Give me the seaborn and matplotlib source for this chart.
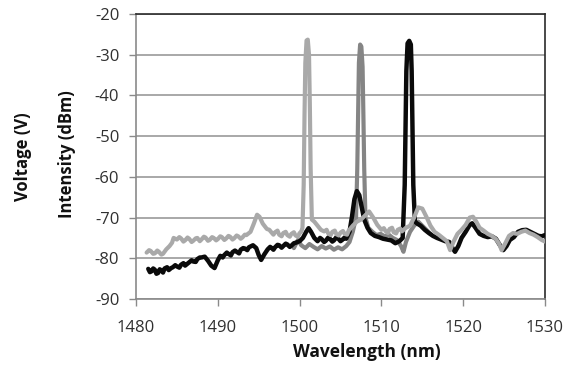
import matplotlib
matplotlib.use("Agg")
import matplotlib.pyplot as plt
import seaborn as sns
import pandas as pd

# ---- data ----
light_wl = [1481.3, 1481.6, 1481.8, 1482.1, 1482.3, 1482.6, 1482.8, 1483.1, 1483.3, 1483.7,
            1484.1, 1484.4, 1484.6, 1485.0, 1485.3, 1485.5, 1485.8, 1486.0, 1486.3, 1486.5,
            1486.8, 1487.0, 1487.3, 1487.5, 1487.8, 1488.0, 1488.3, 1488.5, 1488.8, 1489.0,
            1489.3, 1489.5, 1489.8, 1490.0, 1490.3, 1490.5, 1490.8, 1491.0, 1491.3, 1491.5,
            1491.8, 1492.0, 1492.3, 1492.5, 1492.8, 1493.0, 1493.3, 1493.5, 1494.0, 1494.4,
            1494.8, 1495.1, 1495.5, 1496.0, 1496.3, 1496.5, 1496.8, 1497.0, 1497.3, 1497.5,
            1497.8, 1498.0, 1498.3, 1498.5, 1498.8, 1499.0, 1499.3, 1499.5, 1499.8, 1500.0,
            1500.2, 1500.35, 1500.5, 1500.6, 1500.7, 1500.85, 1501.0, 1501.15, 1501.25, 1501.35,
            1501.5, 1501.8, 1502.2, 1502.6, 1503.0, 1503.3, 1503.5, 1503.8, 1504.0, 1504.3,
            1504.5, 1504.8, 1505.0, 1505.3, 1505.5, 1505.8, 1506.0, 1506.5, 1507.0, 1507.5,
            1508.0, 1508.5, 1509.0, 1509.5, 1510.0, 1510.3, 1510.5, 1510.8, 1511.0, 1511.3,
            1511.5, 1511.8, 1512.0, 1512.3, 1512.5, 1513.0, 1513.5, 1514.0, 1514.5, 1515.0,
            1515.5, 1516.0, 1516.5, 1517.0, 1517.5, 1518.0, 1518.4, 1518.8, 1519.3, 1519.8,
            1520.3, 1520.8, 1521.2, 1521.6, 1522.0, 1522.5, 1523.0, 1523.5, 1524.0, 1524.4,
            1524.7, 1525.1, 1525.6, 1526.1, 1526.6, 1527.1, 1527.6, 1528.1, 1528.6, 1529.1,
            1529.6, 1530.0]
light_db = [-78.6, -78.0, -78.2, -78.9, -78.8, -78.1, -78.4, -79.1, -78.9, -77.8,
            -77.0, -76.2, -75.0, -75.4, -74.8, -75.1, -75.9, -75.6, -74.9, -75.2,
            -76.0, -75.7, -75.1, -75.0, -75.8, -75.4, -74.7, -74.9, -75.7, -75.5,
            -74.8, -75.0, -75.6, -75.3, -74.6, -74.8, -75.5, -75.2, -74.5, -74.7,
            -75.4, -75.1, -74.4, -74.6, -75.2, -74.9, -74.2, -74.3, -73.5, -71.5,
            -69.3, -69.8, -71.5, -72.8, -73.0, -73.5, -74.2, -73.6, -73.2, -74.2,
            -74.6, -73.8, -73.5, -74.3, -74.7, -74.0, -73.6, -74.4, -74.7, -73.8,
            -73.5, -72.5, -62.0, -45.0, -32.0, -26.5, -26.3, -30.0, -42.0, -58.0,
            -70.5, -71.0, -72.0, -73.0, -73.4, -73.0, -73.9, -74.3, -73.5, -73.2,
            -74.1, -74.4, -73.7, -73.3, -74.0, -74.2, -73.2, -72.0, -71.0, -70.5,
            -69.5, -68.5, -70.0, -71.8, -73.0, -72.6, -73.3, -73.8, -72.8, -72.5,
            -73.6, -73.9, -73.0, -72.7, -73.4, -72.5, -72.0, -70.0, -67.5, -67.8,
            -69.8, -72.0, -73.5, -74.2, -75.0, -75.8, -78.0, -76.0, -74.0, -73.0,
            -71.8, -70.0, -69.8, -71.0, -72.5, -73.2, -74.0, -74.5, -75.3, -76.5,
            -78.0, -76.5, -74.5, -73.8, -74.0, -73.5, -73.2, -73.8, -74.2, -74.8,
            -75.5, -75.9]

mid_wl = [1499.3, 1499.8, 1500.2, 1500.7, 1501.2, 1501.7, 1502.2, 1502.7, 1503.2, 1503.7,
          1504.2, 1504.7, 1505.2, 1505.7, 1506.1, 1506.5, 1506.9, 1507.05, 1507.15, 1507.25,
          1507.4, 1507.55, 1507.7, 1507.8, 1507.9, 1508.05, 1508.4, 1508.9, 1509.4, 1509.9,
          1510.4, 1510.9, 1511.4, 1511.9, 1512.4, 1512.7, 1513.0, 1513.5, 1514.0, 1514.5,
          1515.0, 1515.5, 1516.0]
mid_db = [-77.5, -75.5, -76.8, -77.5, -76.5, -77.2, -77.8, -77.0, -77.6, -77.1,
          -77.9, -77.3, -77.8, -77.0, -76.0, -73.5, -70.0, -58.0, -45.0, -32.0,
          -27.5, -28.0, -33.0, -45.0, -58.0, -70.0, -72.5, -73.5, -74.3, -74.0,
          -74.6, -74.2, -75.0, -75.5, -77.0, -78.4, -76.0, -73.5, -72.0, -71.0,
          -72.0, -73.0, -74.0]

black_wl = [1481.5, 1481.7, 1481.9, 1482.1, 1482.3, 1482.5, 1482.7, 1482.9, 1483.1, 1483.3,
            1483.5, 1483.8, 1484.0, 1484.3, 1484.5, 1484.8, 1485.0, 1485.3, 1485.5, 1485.8,
            1486.0, 1486.3, 1486.5, 1486.8, 1487.0, 1487.3, 1487.5, 1487.8, 1488.0, 1488.4,
            1488.8, 1489.2, 1489.6, 1490.0, 1490.3, 1490.6, 1490.8, 1491.1, 1491.3, 1491.6,
            1491.8, 1492.1, 1492.3, 1492.6, 1492.8, 1493.1, 1493.3, 1493.6, 1493.8, 1494.3,
            1494.7, 1495.0, 1495.3, 1495.7, 1496.1, 1496.4, 1496.6, 1496.8, 1497.0, 1497.3,
            1497.5, 1497.8, 1498.0, 1498.3, 1498.5, 1498.8, 1499.0, 1499.3, 1499.5, 1500.0,
            1500.4, 1500.8, 1501.1, 1501.4, 1501.8, 1502.2, 1502.5, 1502.7, 1503.0, 1503.2,
            1503.5, 1503.7, 1504.0, 1504.2, 1504.5, 1504.7, 1505.0, 1505.2, 1505.5, 1505.7,
            1506.1, 1506.4, 1506.7, 1507.0, 1507.3, 1507.6, 1507.9, 1508.3, 1508.7, 1509.2,
            1509.7, 1510.2, 1510.7, 1511.2, 1511.7, 1512.2, 1512.6, 1512.85, 1512.95, 1513.05,
            1513.2, 1513.4, 1513.6, 1513.7, 1513.8, 1513.9, 1514.1, 1514.4, 1514.8, 1515.3,
            1515.8, 1516.3, 1516.8, 1517.3, 1517.8, 1518.3, 1518.7, 1519.0, 1519.4, 1519.8,
            1520.3, 1520.8, 1521.1, 1521.5, 1522.0, 1522.5, 1523.0, 1523.5, 1524.0, 1524.4,
            1524.9, 1525.3, 1525.7, 1526.2, 1526.7, 1527.2, 1527.7, 1528.2, 1528.7, 1529.2,
            1529.6, 1530.0]
black_db = [-82.6, -83.4, -83.2, -82.5, -82.8, -83.8, -83.6, -82.7, -83.0, -83.5,
            -82.5, -82.2, -82.9, -82.4, -82.2, -81.7, -82.0, -82.3, -81.6, -81.2,
            -81.8, -81.3, -81.0, -80.5, -80.8, -80.9, -80.2, -79.8, -79.8, -79.6,
            -80.6, -81.8, -82.4, -80.5, -79.4, -79.8, -79.2, -78.6, -78.9, -79.3,
            -78.5, -78.1, -78.4, -78.8, -77.9, -77.5, -77.6, -78.0, -77.3, -76.8,
            -77.5, -79.2, -80.4, -79.0, -77.8, -77.2, -77.5, -77.9, -77.3, -76.7,
            -76.8, -77.4, -77.0, -76.4, -76.6, -77.2, -76.9, -76.3, -76.2, -75.8,
            -75.0, -73.5, -72.6, -73.5, -75.0, -75.8, -75.0, -75.3, -76.0, -75.7,
            -74.9, -75.2, -75.9, -75.6, -74.8, -75.1, -75.8, -75.5, -74.9, -75.2,
            -73.5, -69.8, -65.5, -63.5, -64.5, -67.5, -70.5, -72.5, -73.8, -74.5,
            -74.8, -75.2, -75.4, -75.6, -76.3, -75.8, -75.0, -62.0, -48.0, -34.0,
            -27.2, -26.6, -27.5, -34.0, -48.0, -62.0, -71.0, -71.5, -72.0, -73.0,
            -73.8, -74.5, -75.0, -75.4, -75.8, -76.0, -77.5, -78.4, -77.0, -75.0,
            -73.5, -71.8, -71.4, -72.5, -74.0, -74.5, -74.8, -74.6, -75.2, -76.5,
            -78.0, -77.0, -75.5, -74.8, -73.5, -73.1, -73.0, -73.5, -74.0, -74.5,
            -74.6, -74.3]

x_ticks = [1480, 1490, 1500, 1510, 1520, 1530]
y_ticks = [-90, -80, -70, -60, -50, -40, -30, -20]

# ---- plotting ----
sns.set_style("white")
plt.rcParams['font.family'] = ['Open Sans', 'DejaVu Sans']

fig = plt.figure(figsize=(5.71, 3.74), dpi=100)
ax = fig.add_axes([136/571, 1-299/374, (545-136)/571, (299-14)/374])

df_mid = pd.DataFrame({"wl": mid_wl, "db": mid_db})
df_light = pd.DataFrame({"wl": light_wl, "db": light_db})
df_black = pd.DataFrame({"wl": black_wl, "db": black_db})

sns.lineplot(data=df_mid, x="wl", y="db", ax=ax, color="#858585", lw=3.0,
             estimator=None, zorder=3)
sns.lineplot(data=df_black, x="wl", y="db", ax=ax, color="#0a0a0a", lw=3.2,
             estimator=None, zorder=4)
sns.lineplot(data=df_light, x="wl", y="db", ax=ax, color="#a9a9a9", lw=3.0,
             estimator=None, zorder=5)

ax.set_xlim(1480, 1530)
ax.set_ylim(-90, -20)
ax.set_xticks(x_ticks)
ax.set_yticks(y_ticks)
ax.set_xticklabels([str(t) for t in x_ticks])
ax.set_yticklabels([str(t) for t in y_ticks])
ax.yaxis.grid(True, color="#9a9a9a", lw=1.2, zorder=1)
ax.xaxis.grid(False)
ax.set_axisbelow(True)

for s in ["left", "bottom"]:
    ax.spines[s].set_color("#8a8a8a")
    ax.spines[s].set_linewidth(1.2)
for s in ["top", "right"]:
    ax.spines[s].set_color("#2a2a2a")
    ax.spines[s].set_linewidth(1.2)

ax.tick_params(axis="both", which="major", direction="out", length=5,
               width=1.0, color="#8a8a8a", labelsize=12, labelcolor="#303030",
               left=True, bottom=True)
ax.tick_params(axis="y", pad=7)
ax.tick_params(axis="x", pad=10)
ax.set_xlabel("")
ax.set_ylabel("")

fig.text(366.7/571, 1-352/374, "Wavelength (nm)", ha="center", va="center",
         fontsize=12.5, fontweight="bold", color="#111111")
fig.text(67/571, 1-154/374, "Intensity (dBm)", ha="center", va="center",
         rotation=90, fontsize=12, fontweight="bold", color="#111111")
fig.text(23/571, 1-157/374, "Voltage (V)", ha="center", va="center",
         rotation=90, fontsize=12, fontweight="bold", color="#111111")

fig.savefig("out.png", dpi=100)
